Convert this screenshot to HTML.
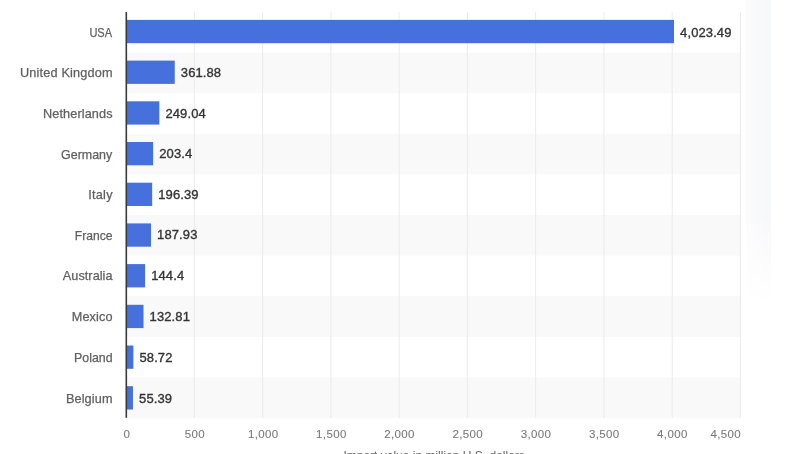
<!DOCTYPE html>
<html><head><meta charset="utf-8">
<style>
html,body{margin:0;padding:0;}
body{width:808px;height:454px;overflow:hidden;position:relative;background:#fff;font-family:"Liberation Sans",sans-serif;}
.txt{position:absolute;left:0;top:0;width:808px;height:454px;will-change:transform;}
.band{position:absolute;left:126.00px;width:614.25px;background:#f9f9f9;}
.grid{position:absolute;top:12.00px;height:406.00px;width:1px;background:#e8e8e8;}
.bar{position:absolute;left:126.00px;height:23.40px;background:#4671dd;}
.axis{position:absolute;left:125.5px;top:12.00px;width:1.5px;height:406.00px;background:#3a3a3a;}
.yl{position:absolute;right:695.50px;height:20px;line-height:20px;font-size:12.7px;color:#606060;-webkit-text-stroke:0.25px #606060;white-space:nowrap;text-align:right;}
.vl{position:absolute;height:20px;line-height:20px;font-size:13px;color:#333;font-weight:normal;letter-spacing:0.1px;-webkit-text-stroke:0.35px #333;white-space:nowrap;}
.xl{position:absolute;top:424px;width:80px;height:20px;line-height:20px;text-align:center;font-size:11.5px;letter-spacing:0.35px;text-indent:0.35px;color:#7a7a7a;-webkit-text-stroke:0.1px #7a7a7a;}
.title{position:absolute;left:126.00px;width:614.25px;top:446px;line-height:20px;text-align:center;font-size:12px;color:#666;text-indent:2px;white-space:nowrap;}
.shade{position:absolute;left:746px;width:25px;top:0;height:305px;background:linear-gradient(90deg,#fcfcfd,#f6f7f9);-webkit-mask-image:linear-gradient(#000,#000 70%,transparent);}
</style></head><body>
<div class="shade"></div>
<svg width="808" height="454" style="position:absolute;left:0;top:0"><rect x="126" y="52.60" width="614.25" height="40.60" fill="#f9f9f9"/><rect x="126" y="133.80" width="614.25" height="40.60" fill="#f9f9f9"/><rect x="126" y="215.00" width="614.25" height="40.60" fill="#f9f9f9"/><rect x="126" y="296.20" width="614.25" height="40.60" fill="#f9f9f9"/><rect x="126" y="377.40" width="614.25" height="40.60" fill="#f9f9f9"/><rect x="193.86" y="12.00" width="1" height="406.00" fill="#ebebeb"/><rect x="262.12" y="12.00" width="1" height="406.00" fill="#ebebeb"/><rect x="330.38" y="12.00" width="1" height="406.00" fill="#ebebeb"/><rect x="398.64" y="12.00" width="1" height="406.00" fill="#ebebeb"/><rect x="466.90" y="12.00" width="1" height="406.00" fill="#ebebeb"/><rect x="535.16" y="12.00" width="1" height="406.00" fill="#ebebeb"/><rect x="603.42" y="12.00" width="1" height="406.00" fill="#ebebeb"/><rect x="671.68" y="12.00" width="1" height="406.00" fill="#ebebeb"/><rect x="739.94" y="12.00" width="1" height="406.00" fill="#ebebeb"/><rect x="126" y="19.90" width="548.00" height="23.3" fill="#4671dd"/><rect x="126" y="60.60" width="48.74" height="23.3" fill="#4671dd"/><rect x="126" y="101.30" width="33.36" height="23.3" fill="#4671dd"/><rect x="126" y="142.00" width="27.13" height="23.3" fill="#4671dd"/><rect x="126" y="182.70" width="26.18" height="23.3" fill="#4671dd"/><rect x="126" y="223.40" width="25.02" height="23.3" fill="#4671dd"/><rect x="126" y="264.10" width="19.09" height="23.3" fill="#4671dd"/><rect x="126" y="304.80" width="17.51" height="23.3" fill="#4671dd"/><rect x="126" y="345.50" width="7.41" height="23.3" fill="#4671dd"/><rect x="126" y="386.20" width="6.95" height="23.3" fill="#4671dd"/><rect x="125.5" y="12" width="1.6" height="405.8" fill="#3a3a3a"/></svg>
<div class="txt">
<div class="yl" style="top:23.30px;transform:scaleX(0.870);transform-origin:100% 50%">USA</div>
<div class="vl" style="top:23.10px;left:680.10px">4,023.49</div>
<div class="yl" style="top:62.90px;letter-spacing:0.173px;margin-right:-0.173px">United Kingdom</div>
<div class="vl" style="top:62.70px;left:180.84px">361.88</div>
<div class="yl" style="top:103.75px;letter-spacing:0.100px;margin-right:-0.100px">Netherlands</div>
<div class="vl" style="top:103.55px;left:165.46px">249.04</div>
<div class="yl" style="top:144.60px;transform:scaleX(0.980);transform-origin:100% 50%">Germany</div>
<div class="vl" style="top:144.40px;left:159.23px">203.4</div>
<div class="yl" style="top:184.70px;letter-spacing:0.250px;margin-right:-0.250px">Italy</div>
<div class="vl" style="top:184.50px;left:158.28px">196.39</div>
<div class="yl" style="top:225.55px;transform:scaleX(0.954);transform-origin:100% 50%">France</div>
<div class="vl" style="top:225.35px;left:157.12px">187.93</div>
<div class="yl" style="top:265.90px;letter-spacing:0.031px;margin-right:-0.031px">Australia</div>
<div class="vl" style="top:265.70px;left:151.19px">144.4</div>
<div class="yl" style="top:307.00px;letter-spacing:0.100px;margin-right:-0.100px">Mexico</div>
<div class="vl" style="top:306.80px;left:149.61px">132.81</div>
<div class="yl" style="top:348.10px;transform:scaleX(0.974);transform-origin:100% 50%">Poland</div>
<div class="vl" style="top:347.90px;left:139.51px">58.72</div>
<div class="yl" style="top:388.70px;letter-spacing:0.125px;margin-right:-0.125px">Belgium</div>
<div class="vl" style="top:388.50px;left:139.05px">55.39</div>
<div class="xl" style="left:86.60px">0</div>
<div class="xl" style="left:154.80px">500</div>
<div class="xl" style="left:223.00px">1,000</div>
<div class="xl" style="left:291.20px">1,500</div>
<div class="xl" style="left:359.40px">2,000</div>
<div class="xl" style="left:427.60px">2,500</div>
<div class="xl" style="left:495.80px">3,000</div>
<div class="xl" style="left:564.00px">3,500</div>
<div class="xl" style="left:632.20px">4,000</div>
<div class="xl" style="left:661.00px;text-align:right">4,500</div>
<div class="title">Import value in million U.S. dollars</div>
</div>
</body></html>
